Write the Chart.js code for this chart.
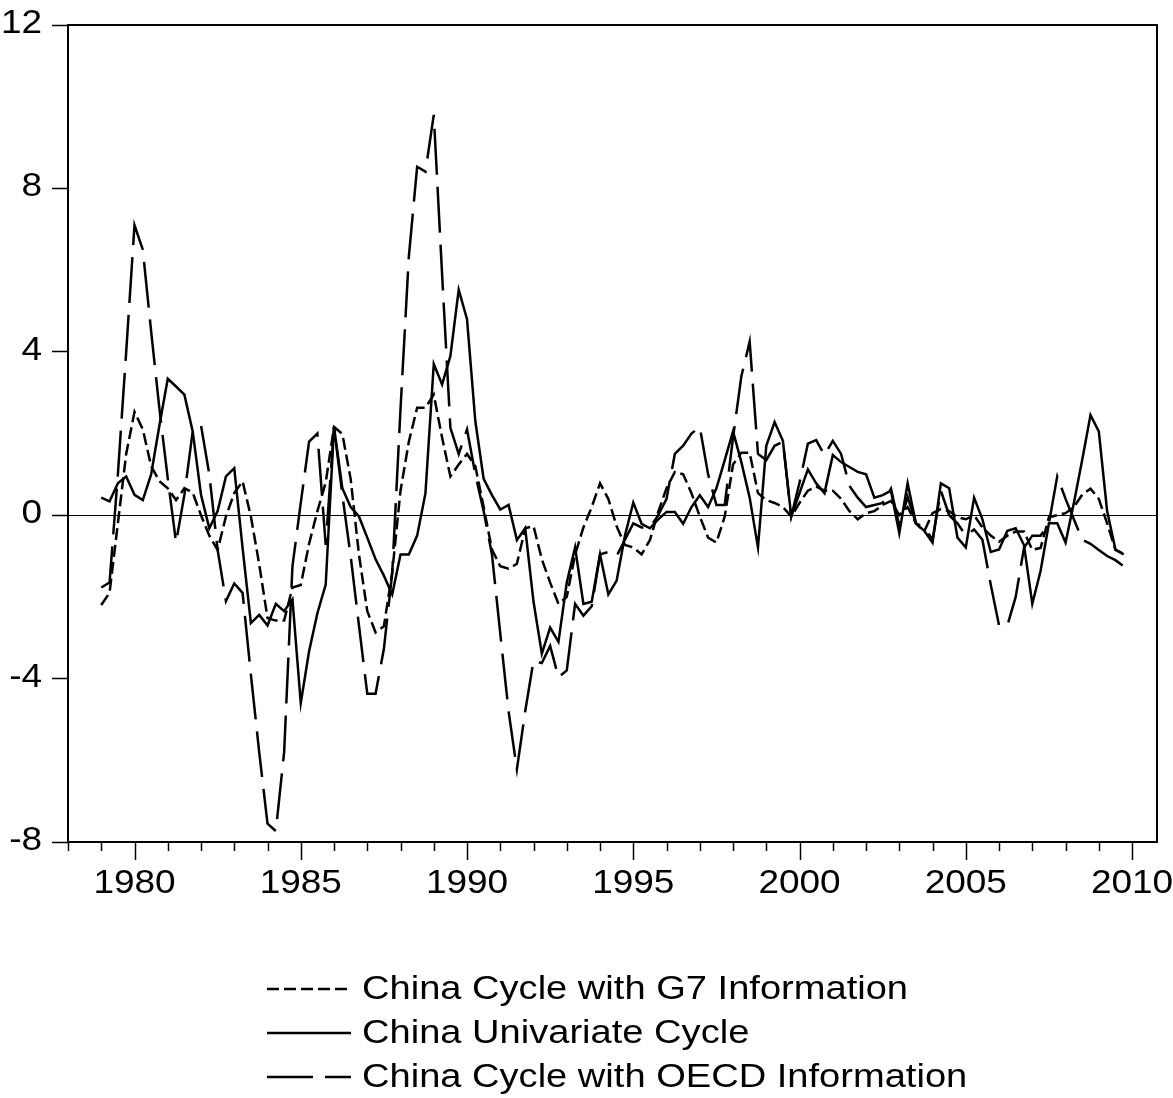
<!DOCTYPE html>
<html>
<head>
<meta charset="utf-8">
<script src="https://cdn.jsdelivr.net/npm/chart.js@4.4.0/dist/chart.umd.min.js"></script>
<style>
  body { margin: 0; background: #fff; }
  canvas { display: block; }
</style>
</head>
<body>
<canvas id="grafico" width="1173" height="1098" style="width:1173px;height:1098px"></canvas>
<script>
// quarterly data, 1979Q1 .. 2009Q4 (4 values per line = one year)
const firstYear = 1979;

const g7Cycle = [
  -2.2, -1.9, -0.2, 1.5,      // 1979
  2.53, 2.1, 1.2, 0.83,       // 1980
  0.66, 0.37, 0.66, 0.55,     // 1981
  0.0, -0.5, -0.85, -0.03,    // 1982
  0.54, 0.83, -0.03, -1.2,    // 1983
  -2.52, -2.58, -2.58, -1.77, // 1984
  -1.71, -0.7, 0.1, 0.8,      // 1985
  2.16, 1.99, 0.89, -0.96,    // 1986
  -2.35, -2.87, -2.72, -1.4,  // 1987
  0.6, 1.8, 2.63, 2.63,       // 1988
  2.95, 1.9, 0.95, 1.24,      // 1989
  1.5, 1.2, 0.2, -0.84,       // 1990
  -1.25, -1.31, -1.19, -0.32, // 1991
  -0.27, -1.08, -1.65, -2.17, // 1992
  -2.0, -0.96, -0.3, 0.2,     // 1993
  0.78, 0.4, -0.27, -0.73,    // 1994
  -0.79, -0.96, -0.61, 0.08,  // 1995
  0.66, 1.06, 1.0, 0.54,      // 1996
  -0.03, -0.55, -0.67, -0.03, // 1997
  1.24, 1.53, 1.53, 0.54,     // 1998
  0.37, 0.3, 0.2, -0.03,      // 1999
  0.3, 0.6, 0.7, 0.6,         // 2000
  0.6, 0.4, 0.1, -0.1,        // 2001
  0.05, 0.1, 0.25, 0.35,      // 2002
  0.0, 0.2, -0.2, -0.4,       // 2003
  0.05, 0.15, 0.1, -0.05,     // 2004
  -0.1, 0.0, -0.3, -0.5,      // 2005
  -0.65, -0.5, -0.4, -0.4,    // 2006
  -0.85, -0.8, -0.05, 0.0,    // 2007
  0.05, 0.2, 0.5, 0.65,       // 2008
  0.4, -0.2, -0.85, -0.95     // 2009
];

const univariateCycle = [
  0.43, 0.34, 0.78, 0.95,     // 1979
  0.5, 0.37, 1.0, 2.2,        // 1980
  3.34, 3.15, 2.95, 2.05,     // 1981
  0.5, -0.32, 0.1, 0.95,      // 1982
  1.15, -0.8, -2.64, -2.44,   // 1983
  -2.7, -2.17, -2.35, -2.06,  // 1984
  -4.6, -3.33, -2.4, -1.7,    // 1985
  2.16, 0.66, 0.2, -0.03,     // 1986
  -0.55, -1.08, -1.48, -1.94, // 1987
  -0.96, -0.96, -0.5, 0.54,   // 1988
  3.7, 3.2, 3.9, 5.52,        // 1989
  4.8, 2.3, 0.89, 0.49,       // 1990
  0.14, 0.25, -0.61, -0.32,   // 1991
  -2.12, -3.39, -2.75, -3.1,  // 1992
  -1.65, -0.79, -2.17, -2.12, // 1993
  -0.96, -1.94, -1.6, -0.5,   // 1994
  0.31, -0.21, -0.32, -0.1,   // 1995
  0.08, 0.08, -0.21, 0.2,     // 1996
  0.49, 0.2, 0.66, 1.35,      // 1997
  2.05, 1.3, 0.43, -0.79,     // 1998
  1.7, 2.28, 1.82, -0.03,     // 1999
  0.54, 1.12, 0.78, 0.54,     // 2000
  1.47, 1.3, 1.18, 1.06,      // 2001
  1.0, 0.43, 0.49, 0.6,       // 2002
  -0.44, 0.78, -0.2, -0.38,   // 2003
  -0.67, 0.78, 0.66, -0.55,   // 2004
  -0.79, 0.43, -0.1, -0.9,    // 2005
  -0.84, -0.38, -0.32, -0.73, // 2006
  -2.17, -1.36, -0.2, -0.2,   // 2007
  -0.67, 0.3, 1.35, 2.45,     // 2008
  2.05, 0.1, -0.84, -0.96     // 2009
];

const oecdCycle = [
  -1.77, -1.65, 1.0, 4.0,     // 1979
  7.1, 6.5, 4.5, 2.6,         // 1980
  0.9, -0.67, 0.5, 2.05,      // 1981
  2.2, 1.0, -0.85, -2.1,      // 1982
  -1.67, -1.9, -3.9, -5.8,    // 1983
  -7.55, -7.73, -5.8, -1.25,  // 1984
  0.3, 1.8, 2.0, -0.73,       // 1985
  2.16, 0.5, -1.0, -2.7,      // 1986
  -4.37, -4.37, -3.27, -1.42, // 1987
  2.6, 6.33, 8.53, 8.41,      // 1988
  9.8, 5.9, 2.14, 1.5,        // 1989
  2.1, 1.0, 0.1, -0.96,       // 1990
  -2.9, -4.8, -6.22, -4.8,    // 1991
  -3.56, -3.62, -3.2, -3.97,  // 1992
  -3.8, -2.17, -2.46, -2.23,  // 1993
  -0.96, -0.9, -1.0, -0.6,    // 1994
  -0.2, -0.3, -0.3, 0.0,      // 1995
  0.4, 1.5, 1.7, 2.0,         // 1996
  2.16, 1.0, 0.25, 0.25,      // 1997
  1.9, 3.4, 4.25, 1.5,        // 1998
  1.35, 1.7, 1.8, -0.03,      // 1999
  0.8, 1.75, 1.84, 1.47,      // 2000
  1.82, 1.5, 0.72, 0.43,      // 2001
  0.2, 0.25, 0.3, 0.65,       // 2002
  -0.27, 0.45, -0.2, -0.3,    // 2003
  -0.6, 0.6, 0.0, -0.2,       // 2004
  -0.5, -0.35, -0.6, -1.7,    // 2005
  -2.7, -2.7, -2.0, -0.8,     // 2006
  -0.5, -0.5, -0.2, 0.95,     // 2007
  0.4, -0.1, -0.6, -0.7,      // 2008
  -0.85, -1.0, -1.1, -1.25    // 2009
];

const seriesLabels = [
  'China Cycle with G7 Information',
  'China Univariate Cycle',
  'China Cycle with OECD Information'
];

const yTickValues = [-8, -4, 0, 4, 8, 12];
const xTickValues = [1980, 1985, 1990, 1995, 2000, 2005, 2010];

// x position of each quarter (1979.0, 1979.25, ...)
function pontos(valores) {
  return valores.map((v, i) => ({ x: firstYear + i / 4, y: v }));
}

const fonte = '"Liberation Sans", Arial, sans-serif';

// texto um pouco esticado na horizontal, como no original
function texto(c, s, x, y, align, tam) {
  c.save();
  c.translate(x, y);
  c.scale(1.12, 1);
  c.font = tam + 'px ' + fonte;
  c.fillStyle = '#000';
  c.textAlign = align;
  c.textBaseline = 'alphabetic';
  c.fillText(s, 0, 0);
  c.restore();
}

// frame, year ticks, tick labels and the legend under the chart
const extras = {
  id: 'extras',
  afterDraw(chart) {
    const c = chart.ctx;
    const a = chart.chartArea;
    const xs = chart.scales.x;
    const ys = chart.scales.y;
    c.save();
    c.strokeStyle = '#000';
    c.lineWidth = 2;
    c.setLineDash([]);
    c.strokeRect(a.left, a.top, a.right - a.left, a.bottom - a.top);

    c.lineWidth = 1.5;
    for (let ano = 1978; ano <= 2010; ano++) {
      const px = Math.round(xs.getPixelForValue(ano)) + 0.5;
      const tam = ano % 5 === 0 ? 18 : 9;
      c.beginPath();
      c.moveTo(px, a.bottom);
      c.lineTo(px, a.bottom + tam);
      c.stroke();
    }

    xs.ticks.forEach(t => {
      texto(c, String(t.value), xs.getPixelForValue(t.value), 893, 'center', 33);
    });
    ys.ticks.forEach(t => {
      texto(c, String(t.value), 42, ys.getPixelForValue(t.value) + 8, 'right', 33);
    });

    const linhas = [989, 1033, 1077];
    chart.data.datasets.forEach((ds, i) => {
      const y = linhas[i];
      c.lineWidth = 2.5;
      c.setLineDash(ds.borderDash || []);
      c.beginPath();
      c.moveTo(267, y);
      c.lineTo(351, y);
      c.stroke();
      c.setLineDash([]);
      texto(c, ds.label, 362, y + 10, 'left', 34);
    });
    c.restore();
  }
};

const ctx = document.getElementById('grafico').getContext('2d');

const grafico = new Chart(ctx, {
  type: 'line',
  data: {
    datasets: [
      {
        label: seriesLabels[0],
        data: pontos(g7Cycle),
        borderColor: '#000',
        borderWidth: 2.5,
        borderDash: [12, 5]
      },
      {
        label: seriesLabels[1],
        data: pontos(univariateCycle),
        borderColor: '#000',
        borderWidth: 2.5,
        borderDash: []
      },
      {
        label: seriesLabels[2],
        data: pontos(oecdCycle),
        borderColor: '#000',
        borderWidth: 2.5,
        borderDash: [46, 12]
      }
    ]
  },
  options: {
    responsive: false,
    animation: false,
    events: [],
    elements: {
      point: { radius: 0 },
      line: { tension: 0, borderCapStyle: 'butt', borderJoinStyle: 'miter' }
    },
    layout: { padding: { top: 25, right: 16, left: 0, bottom: 0 } },
    plugins: {
      legend: { display: false },
      tooltip: { enabled: false }
    },
    scales: {
      x: {
        type: 'linear',
        min: 1978,
        max: 2010.75,
        afterFit: s => { s.height = 256; s.paddingLeft = 0; s.paddingRight = 0; },
        afterBuildTicks: s => { s.ticks = xTickValues.map(v => ({ value: v })); },
        grid: { display: false, drawTicks: false },
        border: { display: false },
        ticks: { display: false }
      },
      y: {
        min: -8,
        max: 12,
        afterFit: s => { s.width = 68; s.paddingTop = 0; s.paddingBottom = 0; },
        afterBuildTicks: s => { s.ticks = yTickValues.map(v => ({ value: v })); },
        grid: {
          color: c => (c.tick && c.tick.value === 0 ? '#000' : 'rgba(0,0,0,0)'),
          lineWidth: 1,
          tickColor: '#000',
          tickLength: 16,
          tickWidth: 1.5
        },
        border: { display: false },
        ticks: { display: false }
      }
    }
  },
  plugins: [extras]
});
</script>
</body>
</html>
